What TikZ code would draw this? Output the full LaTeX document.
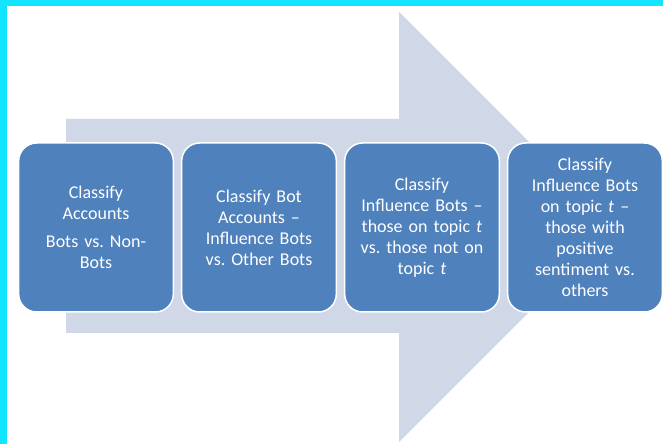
\documentclass[tikz,border=0pt]{standalone}
\usepackage{fontspec}
\setmainfont{Carlito}
\usepackage{tikz}

\definecolor{frame}{RGB}{17,229,255}
\definecolor{stepblue}{RGB}{79,129,189}
\definecolor{arrowgrey}{RGB}{208,215,231}

\tikzset{
	stage/.style={shape=rectangle, rounded corners=18pt, fill=stepblue, draw=white,
		line width=1.5pt, minimum width=154pt, minimum height=169pt,
		text width=148pt, align=center, text=white,
		font=\fontsize{18}{21}\selectfont\frenchspacing}
}

\begin{document}
\begin{tikzpicture}[x=1pt, y=1pt]
	
	% frame and page
	\fill[frame] (0,0) rectangle (663,444);
	\fill[white] (7,0) rectangle (663,438);
	\useasboundingbox (0,0) rectangle (663,444);
	
	% big arrow behind the stages
	\fill[arrowgrey] (66,111) -- (66,325) -- (399,325) -- (399,432)
		-- (614,217) -- (399,2) -- (399,111) -- cycle;
	
	\node[stage] (classify) at (96, 216.5)  {Classify\\Accounts\\[7pt]Bots vs. Non-\\Bots};
	\node[stage] (bots)     at (259, 216.5) {Classify Bot\\Accounts --\\Influence Bots\\vs. Other Bots};
	\node[stage] (topic)    at (422, 216.5) {Classify\\Influence Bots --\\those on topic \textit{t}\\vs. those not on\\topic \textit{t}};
	\node[stage] (sentiment) at (585, 216.5) {Classify\\Influence Bots\\on topic \textit{t} --\\those with\\positive\\sentiment vs.\\others};
	
\end{tikzpicture}
\end{document}
